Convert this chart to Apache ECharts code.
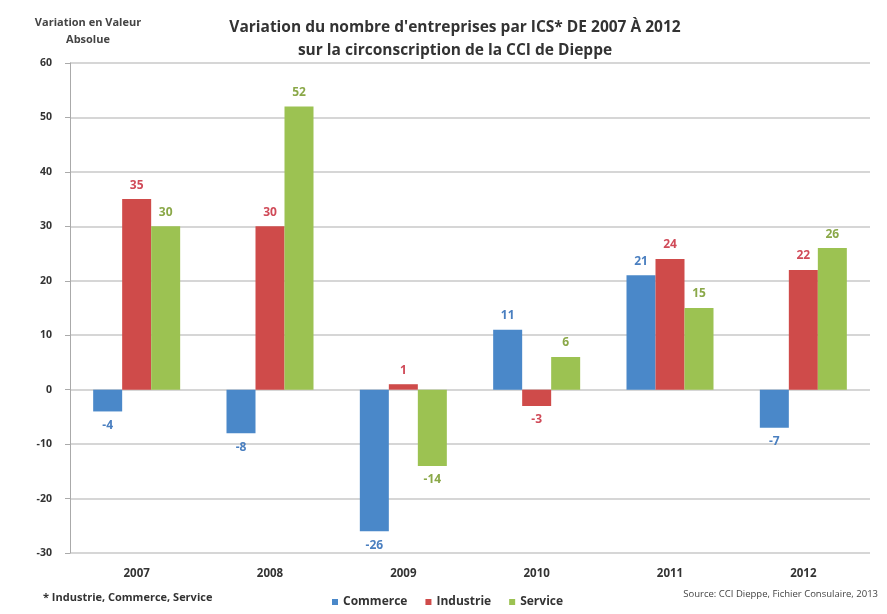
<!DOCTYPE html>
<html>
<head>
<meta charset="utf-8">
<script src="https://cdn.jsdelivr.net/npm/echarts@6/dist/echarts.min.js"></script>
<style>
  html, body { margin: 0; padding: 0; background: #fff; }
  #chart { width: 887px; height: 614px; }
</style>
</head>
<body>
<div id="chart"></div>
<script>
const years = ['2007', '2008', '2009', '2010', '2011', '2012'];
const commerce = [-4, -8, -26, 11, 21, -7];
const industrie = [35, 30, 1, -3, 24, 22];
const service = [30, 52, -14, 6, 15, 26];
const yTicks = [-30, -20, -10, 0, 10, 20, 30, 40, 50, 60];

const font = '"Open Sans", "DejaVu Sans", sans-serif';

function bar(name, data, color, labelColor) {
  return {
    name: name,
    type: 'bar',
    data: data,
    barWidth: 29,
    barGap: '0%',
    itemStyle: { color: color },
    label: {
      show: true,
      position: 'outside',
      distance: 8,
      color: labelColor,
      fontFamily: font,
      fontWeight: 'bold',
      fontSize: 12
    }
  };
}

const chart = echarts.init(document.getElementById('chart'));
chart.setOption({
  animation: false,
  textStyle: { fontFamily: font },
  title: {
    text: "Variation du nombre d'entreprises par ICS* DE 2007 À 2012\nsur la circonscription de la CCI de Dieppe",
    left: 450,
    top: 11,
    textAlign: 'center',
    textStyle: { fontSize: 15.5, fontWeight: 'bold', color: '#333', lineHeight: 23, fontFamily: font }
  },
  grid: { left: 70, right: 17, top: 63, bottom: 61 },
  legend: {
    top: 591,
    left: 327,
    itemWidth: 6,
    itemHeight: 6,
    itemGap: 18,
    icon: 'rect',
    textStyle: { fontSize: 12, fontWeight: 'bold', color: '#333' },
    data: ['Commerce', 'Industrie', 'Service']
  },
  xAxis: {
    type: 'category',
    data: years,
    axisLine: { show: false },
    axisTick: { show: false },
    axisLabel: { margin: 15, fontSize: 11.5, fontWeight: 'bold', color: '#333' }
  },
  yAxis: {
    type: 'value',
    min: yTicks[0],
    max: yTicks[yTicks.length - 1],
    interval: 10,
    axisLine: { show: true, lineStyle: { color: '#aaa' } },
    axisTick: { show: true, length: 5, inside: false, lineStyle: { color: '#aaa' } },
    axisLabel: { fontSize: 10.5, fontWeight: 'bold', color: '#333', margin: 18 },
    splitLine: { lineStyle: { color: '#c8c8c8', width: 1.5 } }
  },
  series: [
    bar('Commerce', commerce, '#4a88c9', '#4a7fc0'),
    bar('Industrie', industrie, '#cf4b4a', '#d04a58'),
    bar('Service', service, '#9cc252', '#8aa848')
  ],
  graphic: [
    {
      type: 'text', x: 88, y: 14,
      style: { text: 'Variation en Valeur\nAbsolue', align: 'center', verticalAlign: 'top', fontSize: 11, lineHeight: 17, fontWeight: 'bold', fill: '#444', fontFamily: font }
    },
    {
      type: 'text', left: 43, top: 592,
      style: { text: '* Industrie, Commerce, Service', fontSize: 11, fontWeight: 'bold', fill: '#333', fontFamily: font }
    },
    {
      type: 'text', right: 9, top: 589,
      style: { text: 'Source: CCI Dieppe, Fichier Consulaire, 2013', fontSize: 9.5, fill: '#444', fontFamily: font }
    }
  ]
});
</script>
</body>
</html>
